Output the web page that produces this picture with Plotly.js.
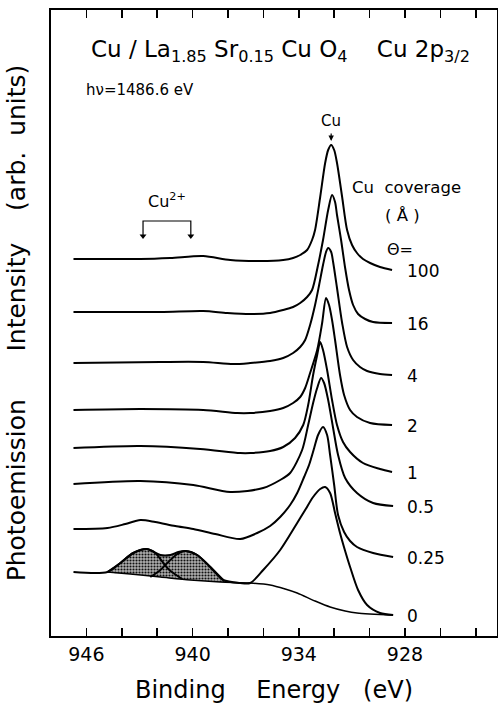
<!DOCTYPE html>
<html>
<head>
<meta charset="utf-8">
<script src="https://cdn.plot.ly/plotly-3.0.1.min.js"></script>
<style>
  html, body { margin: 0; padding: 0; background: #fff; }
  #chart { width: 498px; height: 707px; }
</style>
</head>
<body>
<div id="chart"></div>
<script>
// ---- Data (binding energy in eV, intensity in arb. units, stacked) ----
const coverageLabels = ['100', '16', '4', '2', '1', '0.5', '0.25', '0'];

const e100 = [946.73, 945.21, 942.95, 941.26, 939.40, 937.87, 936.18, 934.88, 934.32, 933.92, 933.53, 933.25, 933.08, 932.79, 932.51, 932.34, 932.17, 932.00, 931.84, 931.55, 931.27, 930.99, 930.71, 930.37, 929.97, 929.41, 928.73];
const i100 = [377, 377, 377, 378, 380, 376, 375, 376, 378, 381, 386, 396, 406, 439, 473, 486, 491, 486, 473, 439, 406, 391, 383, 377, 373, 369, 366];

const e16 = [946.73, 941.82, 939.40, 938.04, 936.74, 935.62, 934.88, 934.32, 933.92, 933.53, 933.25, 932.91, 932.63, 932.34, 932.12, 931.95, 931.84, 931.61, 931.38, 931.16, 930.93, 930.65, 930.25, 929.80, 928.73];
const i16 = [324, 324, 325, 323, 322, 323, 326, 329, 333, 339, 346, 371, 396, 426, 441, 434, 421, 396, 368, 346, 331, 322, 317, 314, 313];

const e4 = [946.73, 941.82, 939.40, 937.70, 936.74, 935.62, 934.88, 934.32, 933.92, 933.64, 933.36, 933.08, 932.85, 932.63, 932.46, 932.34, 932.17, 932.06, 931.84, 931.55, 931.27, 930.93, 930.54, 930.14, 929.41, 928.73];
const i4 = [273, 274, 274, 272, 273, 275, 278, 283, 289, 296, 311, 331, 351, 371, 384, 388, 384, 374, 348, 313, 289, 276, 269, 265, 262, 261];

const e2 = [946.73, 942.95, 939.40, 937.48, 936.74, 935.62, 934.88, 934.32, 933.92, 933.64, 933.36, 932.96, 932.68, 932.46, 932.29, 932.12, 931.95, 931.67, 931.44, 931.10, 930.71, 929.97, 928.73];
const i2 = [226, 227, 226, 223, 223, 225, 228, 233, 239, 248, 263, 286, 313, 338, 331, 316, 296, 261, 241, 226, 219, 213, 211];

const e1 = [946.73, 942.95, 939.57, 937.31, 936.74, 935.62, 934.88, 934.21, 933.75, 933.47, 933.19, 932.96, 932.79, 932.63, 932.40, 932.12, 931.84, 931.50, 931.10, 930.37, 929.41, 928.73];
const i1 = [188, 190, 187, 183, 183, 185, 189, 198, 211, 231, 261, 281, 294, 286, 266, 236, 211, 194, 184, 173, 167, 164];

const e05 = [946.73, 942.95, 939.96, 937.87, 936.01, 935.05, 934.49, 933.81, 933.47, 933.19, 932.96, 932.74, 932.57, 932.34, 932.06, 931.78, 931.38, 930.71, 929.80, 928.67];
const i05 = [152, 155, 151, 144, 148, 156, 163, 186, 211, 233, 248, 258, 253, 236, 208, 181, 158, 143, 133, 130];

const e025 = [946.73, 944.81, 943.80, 942.95, 942.11, 940.98, 939.96, 938.72, 937.31, 936.35, 935.62, 935.05, 934.49, 934.09, 933.70, 933.42, 933.13, 932.91, 932.63, 932.40, 932.23, 932.00, 931.78, 931.44, 931.10, 930.71, 929.80, 928.67];
const i025 = [107, 108, 112, 116, 114, 110, 107, 102, 97, 103, 110, 119, 131, 143, 159, 171, 188, 201, 209, 201, 181, 151, 121, 104, 95, 89, 83, 79];

const e0 = [946.73, 944.81, 944.08, 943.35, 942.61, 942.28, 941.82, 941.26, 940.81, 940.41, 939.74, 939.00, 938.27, 937.31, 936.74, 936.01, 935.05, 934.09, 933.64, 933.19, 932.79, 932.51, 932.23, 931.95, 931.67, 931.38, 931.10, 930.65, 930.14, 929.41, 928.67];
const i0 = [64, 64, 73, 83, 87, 85, 81, 81, 84, 85, 81, 69, 56, 53, 53, 66, 86, 113, 126, 139, 147, 149, 143, 123, 103, 85, 69, 46, 31, 23, 21];

// background under the theta = 0 spectrum
const eBg = [944.81, 943.52, 941.82, 940.13, 938.44, 936.74, 935.62, 934.77, 934.09, 933.08, 932.23, 931.38, 930.71, 928.67];
const iBg = [64, 62, 59, 56, 54, 53, 51, 47, 43, 35, 29, 25, 23, 21];

// fitted Cu2+ satellite components
const eSat1 = [944.81, 944.08, 943.35, 942.61, 942.11, 941.65, 941.37, 941.09, 940.58];
const iSat1 = [64, 73, 83, 87, 83, 73, 67, 63, 57];
const eSat2 = [942.39, 941.82, 941.43, 940.86, 940.41, 939.74, 939.00, 938.27];
const iSat2 = [59, 66, 73, 82, 85, 81, 69, 56];

// Cu2+ satellite marker energies
const satMarkE = [942.8, 940.1];

const xTickVals = [946, 940, 934, 928];
const xTickText = ['946', '940', '934', '928'];

// ---- Build traces ----
const FONT = 'DejaVu Sans, sans-serif';
const lineStyle = { color: '#000', width: 2, shape: 'spline', smoothing: 0.8 };

const series = [
  [e100, i100], [e16, i16], [e4, i4], [e2, i2], [e1, i1], [e05, i05], [e025, i025], [e0, i0]
];

// shaded satellite region: envelope of theta=0 spectrum above the background
const satLimit = 936.74;
const envX = [], envY = [];
e0.forEach((e, k) => { if (e >= satLimit && e <= 944.81) { envX.push(e); envY.push(i0[k]); } });
const bgX = [], bgY = [];
eBg.forEach((e, k) => { if (e >= satLimit) { bgX.push(e); bgY.push(iBg[k]); } });
const polyX = envX.concat(bgX.slice().reverse());
const polyY = envY.concat(bgY.slice().reverse());

const traces = [];
traces.push({
  x: polyX, y: polyY, type: 'scatter', mode: 'lines', fill: 'toself',
  fillcolor: '#a0a0a0',
  fillpattern: { shape: '.', fgcolor: '#111', bgcolor: '#b0b0b0', size: 3, solidity: 0.4 },
  line: { width: 0, shape: 'spline', smoothing: 0.8 }, hoverinfo: 'skip', showlegend: false
});
traces.push({ x: eBg, y: iBg, type: 'scatter', mode: 'lines',
  line: { color: '#000', width: 1.5, shape: 'spline', smoothing: 0.8 }, showlegend: false });
traces.push({ x: eSat1, y: iSat1, type: 'scatter', mode: 'lines', line: lineStyle, showlegend: false });
traces.push({ x: eSat2, y: iSat2, type: 'scatter', mode: 'lines', line: lineStyle, showlegend: false });
series.forEach((s, k) => {
  traces.push({ x: s[0], y: s[1], type: 'scatter', mode: 'lines', name: coverageLabels[k],
    line: lineStyle, showlegend: false });
});

// Cu2+ bracket with down arrows at the satellite energies
const bracketTop = 415, bracketTip = 401;
traces.push({ x: [satMarkE[0], satMarkE[0], satMarkE[1], satMarkE[1]],
  y: [bracketTip, bracketTop, bracketTop, bracketTip], type: 'scatter', mode: 'lines',
  line: { color: '#000', width: 1.2 }, showlegend: false });
traces.push({ x: satMarkE, y: [bracketTip - 1, bracketTip - 1], type: 'scatter', mode: 'markers',
  marker: { symbol: 'triangle-down', size: 6, color: '#000' }, showlegend: false });

// ---- Annotations ----
const ann = [];
const labelE = 928.0;
series.forEach((s, k) => {
  ann.push({ x: labelE, y: s[1][s[1].length - 1] - 1, xref: 'x', yref: 'y', text: coverageLabels[k],
    showarrow: false, xanchor: 'left', yanchor: 'middle', font: { family: FONT, size: 17, color: '#000' } });
});
ann.push({ x: 0.515, y: 0.935, xref: 'paper', yref: 'paper', showarrow: false, xanchor: 'center', yanchor: 'middle',
  text: 'Cu / La<sub>1.85</sub> Sr<sub>0.15</sub> Cu O<sub>4</sub>\u00a0\u00a0\u00a0 Cu 2p<sub>3/2</sub>',
  font: { family: FONT, size: 23, color: '#000' } });
ann.push({ x: 0.074, y: 0.872, xref: 'paper', yref: 'paper', showarrow: false, xanchor: 'left', yanchor: 'middle',
  text: 'h\u03bd=1486.6 eV', font: { family: FONT, size: 15, color: '#000' } });
ann.push({ x: 0.796, y: 0.717, xref: 'paper', yref: 'paper', showarrow: false, xanchor: 'center', yanchor: 'middle',
  text: 'Cu\u00a0 coverage', font: { family: FONT, size: 16.5, color: '#000' } });
ann.push({ x: 0.789, y: 0.672, xref: 'paper', yref: 'paper', showarrow: false, xanchor: 'center', yanchor: 'middle',
  text: '( \u00c5 )', font: { family: FONT, size: 16.5, color: '#000' } });
ann.push({ x: 0.782, y: 0.617, xref: 'paper', yref: 'paper', showarrow: false, xanchor: 'center', yanchor: 'middle',
  text: '\u0398=', font: { family: FONT, size: 16, color: '#000' } });

// Cu metal peak marker
const pk = i100.indexOf(Math.max(...i100));
ann.push({ x: e100[pk], y: i100[pk] + 4, xref: 'x', yref: 'y', ax: 0, ay: -20, text: 'Cu', showarrow: true,
  arrowhead: 2, arrowsize: 0.9, arrowwidth: 1.2, arrowcolor: '#000', standoff: 0, startstandoff: 2,
  font: { family: FONT, size: 15, color: '#000' } });

ann.push({ x: (satMarkE[0] + satMarkE[1]) / 2, y: bracketTop + 21, xref: 'x', yref: 'y', showarrow: false,
  text: 'Cu<sup>2+</sup>', font: { family: FONT, size: 16, color: '#000' }, xanchor: 'center', yanchor: 'middle' });

const layout = {
  width: 498, height: 707,
  margin: { l: 51, r: 1, t: 10, b: 71 },
  paper_bgcolor: '#fff', plot_bgcolor: '#fff',
  showlegend: false,
  font: { family: FONT, color: '#000' },
  xaxis: {
    range: [948, 922.8], autorange: false,
    tickvals: xTickVals, ticktext: xTickText,
    ticks: 'inside', ticklen: 8, tickwidth: 1.5, tickcolor: '#000',
    minor: { ticks: 'inside', ticklen: 8, tickwidth: 1.5, tickcolor: '#000', dtick: 2, tick0: 928, showgrid: false },
    showline: true, linecolor: '#000', linewidth: 2, mirror: 'ticks',
    showgrid: false, zeroline: false,
    tickfont: { family: FONT, size: 19, color: '#000' },
    title: { text: 'Binding\u00a0\u00a0\u00a0 Energy\u00a0\u00a0 (eV)', font: { family: FONT, size: 24, color: '#000' }, standoff: 17 }
  },
  yaxis: {
    range: [0, 626], autorange: false,
    showticklabels: false, ticks: '', showgrid: false, zeroline: false,
    showline: true, linecolor: '#000', linewidth: 2, mirror: true,
    title: { text: 'Photoemission\u00a0\u00a0\u00a0\u00a0\u00a0 Intensity\u00a0\u00a0\u00a0 (arb.\u00a0 units)', font: { family: FONT, size: 25, color: '#000' }, standoff: 16 }
  },
  annotations: ann
};

Plotly.newPlot('chart', traces, layout, { displayModeBar: false, staticPlot: true });
</script>
</body>
</html>
